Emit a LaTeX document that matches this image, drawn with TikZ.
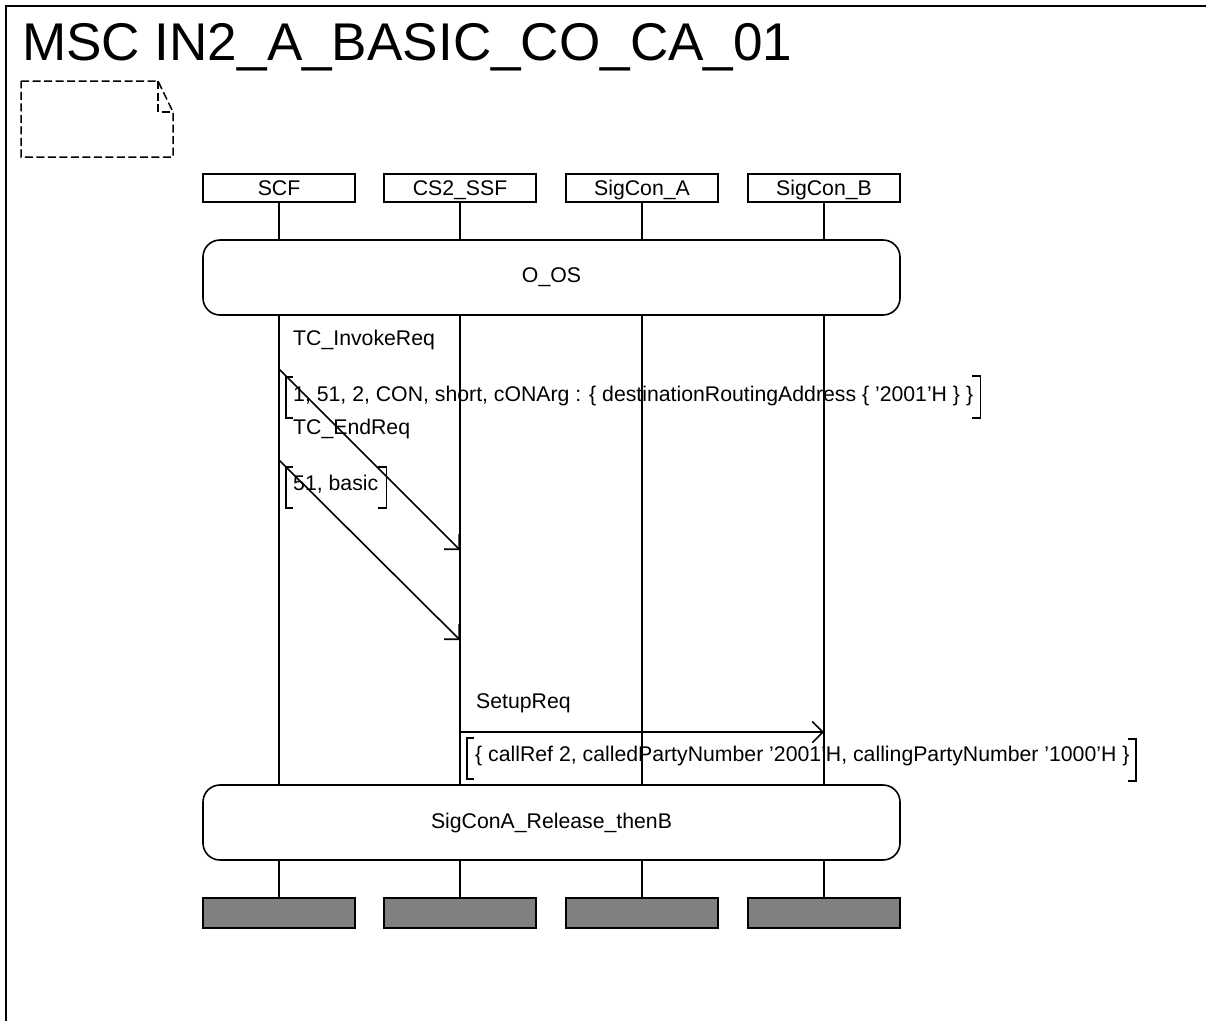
\documentclass[tikz,border=0pt]{standalone}
\usepackage{fontspec}
\setmainfont{Liberation Sans}
\usetikzlibrary{arrows.meta}
\definecolor{endgray}{HTML}{808080}
\begin{document}
\begin{tikzpicture}[x=1pt,y=-1pt,
  txt/.style={font=\fontsize{21.25}{25}\selectfont, inner sep=0pt},
  hdr/.style={draw, line width=1.6pt, minimum width=152pt, minimum height=28pt, inner sep=0pt,
              text height=15pt, text depth=0pt, font=\fontsize{21.25}{25}\selectfont},
  endbox/.style={draw, line width=1.6pt, fill=endgray, minimum width=152pt, minimum height=30pt, inner sep=0pt},
  refbox/.style={draw, line width=1.6pt, rounded corners=17pt, fill=white, minimum width=697pt,
                 minimum height=75pt, inner sep=0pt, font=\fontsize{21.25}{25}\selectfont},
  life/.style={line width=1.6pt},
  msg/.style={line width=1.6pt, -{Straight Barb[length=10.6pt,width=21.2pt]}},
  brk/.style={line width=1.6pt},
  note/.style={line width=1.5pt, dash pattern=on 8pt off 3.5pt}]
\useasboundingbox (0,0) rectangle (1206,1021);
% frame
\draw[line width=2.5pt] (6,1021) -- (6,6) -- (1206,6);
% title
\node[anchor=base west, inner sep=0pt, font=\fontsize{53.1}{60}\selectfont] (title) at (22,60) {MSC IN2\_A\_BASIC\_CO\_CA\_01};
% dashed note
\draw[note] (21,81) -- (158,81) -- (173,112) -- (173,157) -- (21,157) -- cycle;
\draw[note] (158,81) -- (158,112) -- (173,112);
% headers
\node[hdr] (scf) at (279,188) {SCF};
\node[hdr] (ssf) at (460,188) {CS2\_SSF};
\node[hdr] (sga) at (642,188) {SigCon\_A};
\node[hdr] (sgb) at (824,188) {SigCon\_B};
% reference boxes
\node[refbox] (oos) at (551.5,277.5) {O\_OS};
\node[refbox] (rel) at (551.5,822.5) {SigConA\_Release\_thenB};
% end boxes
\node[endbox] (escf) at (279,913) {};
\node[endbox] (essf) at (460,913) {};
\node[endbox] (esga) at (642,913) {};
\node[endbox] (esgb) at (824,913) {};
% lifelines
\foreach \h/\e in {scf/escf, ssf/essf, sga/esga, sgb/esgb}{
  \draw[life] (\h.south) -- (\h |- oos.north);
  \draw[life] (\h |- oos.south) -- (\h |- rel.north);
  \draw[life] (\h |- rel.south) -- (\e.north);
}
% message 1
\node[txt, anchor=base west] (l1) at (293,345) {TC\_InvokeReq};
\coordinate (m1a) at (scf |- 0,369);
\coordinate (m1b) at (ssf |- 0,550);
\draw[msg] (m1a) -- (m1b);
\node[txt, anchor=base west] (p1) at (293,401) {1, 51, 2, CON, short, cONArg : \{ destinationRoutingAddress \{ '2001'H \} \}};
\draw[brk] (293,377) -- (286,377) -- (286,418) -- (293,418);
\coordinate (p1r) at ([xshift=7pt]p1.east);
\draw[brk] ([xshift=-8pt]p1r |- 0,376) -- (p1r |- 0,376) -- (p1r |- 0,418) -- ([xshift=-8pt]p1r |- 0,418);
% message 2
\node[txt, anchor=base west] (l2) at (293,434) {TC\_EndReq};
\coordinate (m2a) at (scf |- 0,460);
\coordinate (m2b) at (ssf |- 0,640);
\draw[msg] (m2a) -- (m2b);
\node[txt, anchor=base west] (p2) at (293,490) {51, basic};
\draw[brk] (293,467) -- (286,467) -- (286,508) -- (293,508);
\coordinate (p2r) at ([xshift=8pt]p2.east);
\draw[brk] ([xshift=-8pt]p2r |- 0,467) -- (p2r |- 0,467) -- (p2r |- 0,508) -- ([xshift=-8pt]p2r |- 0,508);
% message 3
\node[txt, anchor=base west] (l3) at (476,708) {SetupReq};
\coordinate (m3a) at (ssf |- 0,732);
\coordinate (m3b) at (sgb |- 0,732);
\draw[msg] (m3a) -- (m3b);
\node[txt, anchor=base west] (p3) at (475,761) {\{ callRef 2, calledPartyNumber '2001'H, callingPartyNumber '1000'H \}};
\draw[brk] (474,738) -- (467,738) -- (467,779) -- (474,779);
\coordinate (p3r) at ([xshift=6pt]p3.east);
\draw[brk] ([xshift=-8pt]p3r |- 0,739) -- (p3r |- 0,739) -- (p3r |- 0,781) -- ([xshift=-8pt]p3r |- 0,781);
\end{tikzpicture}
\end{document}
